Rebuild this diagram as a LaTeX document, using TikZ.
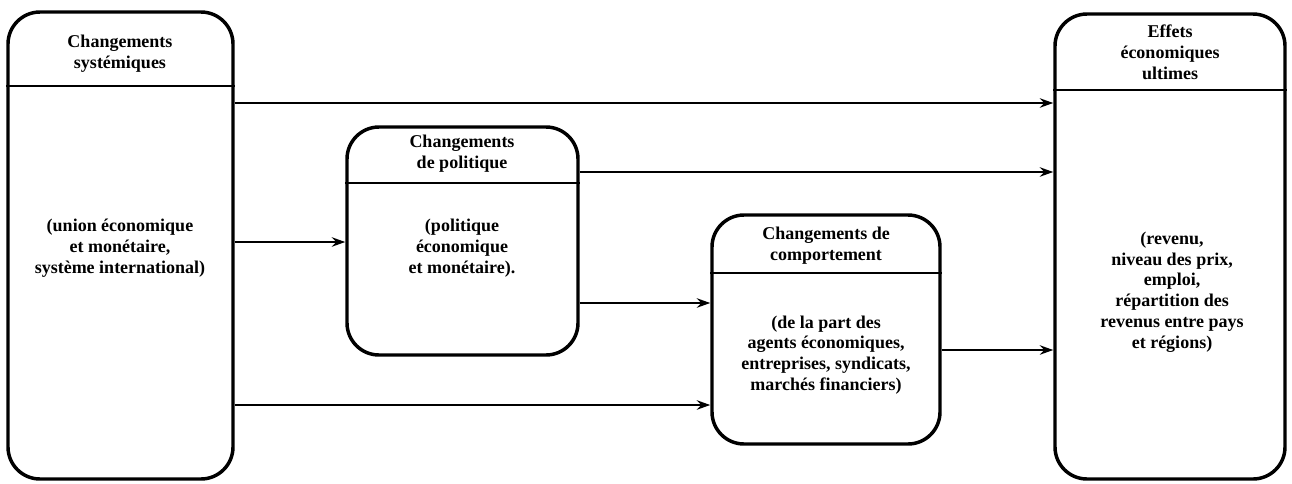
\documentclass[tikz,border=0pt]{standalone}
\usepackage{fontspec}
\setmainfont{Liberation Serif}
\usetikzlibrary{fit,arrows.meta}
\begin{document}
\begin{tikzpicture}[x=0.75pt,y=-0.75pt,
  box/.style={draw, line width=2.6pt, rounded corners=24pt, inner sep=0pt},
  divider/.style={line width=1.9pt},
  lbl/.style={align=center, font=\bfseries\fontsize{13.5}{15.6}\selectfont, inner sep=0pt},
  arr/.style={line width=1.9pt, -{Stealth[length=10pt,width=7pt]}}]
\useasboundingbox (0,0) rectangle (1292,483);
% boxes
\node[box, fit={(8,12) (233,479)}] (A) {};
\node[box, fit={(347,127) (578,355)}] (B) {};
\node[box, fit={(712,215) (940,444)}] (C) {};
\node[box, fit={(1055,14) (1285,479)}] (D) {};
% dividers
\draw[divider] (A.west |- 0,86) -- (A.east |- 0,86);
\draw[divider] (B.west |- 0,183) -- (B.east |- 0,183);
\draw[divider] (C.west |- 0,273) -- (C.east |- 0,273);
\draw[divider] (D.west |- 0,90) -- (D.east |- 0,90);
% texts
\node[lbl] (Ah) at (120,54) {Changements\\systémiques};
\node[lbl] (Ab) at (120,248) {(union économique\\et monétaire,\\système international)};
\node[lbl] (Bh) at (462,154) {Changements\\de politique};
\node[lbl] (Bb) at (462,248) {(politique\\économique\\et monétaire).};
\node[lbl] (Ch) at (826,246) {Changements de\\comportement};
\node[lbl] (Cb) at (826,355) {(de la part des\\agents économiques,\\entreprises, syndicats,\\marchés financiers)};
\node[lbl] (Dh) at (1170,52) {Effets\\économiques\\ultimes};
\node[lbl] (Db) at (1172,292) {(revenu,\\niveau des prix,\\emploi,\\répartition des\\revenus entre pays\\et régions)};
% arrows
\draw[arr] (A.east |- 0,103) -- (D.west |- 0,103);
\draw[arr] (B.east |- 0,172) -- (D.west |- 0,172);
\draw[arr] (A.east |- 0,242) -- (B.west |- 0,242);
\draw[arr] (B.east |- 0,303) -- (C.west |- 0,303);
\draw[arr] (C.east |- 0,350) -- (D.west |- 0,350);
\draw[arr] (A.east |- 0,405) -- (C.west |- 0,405);
\end{tikzpicture}
\end{document}
